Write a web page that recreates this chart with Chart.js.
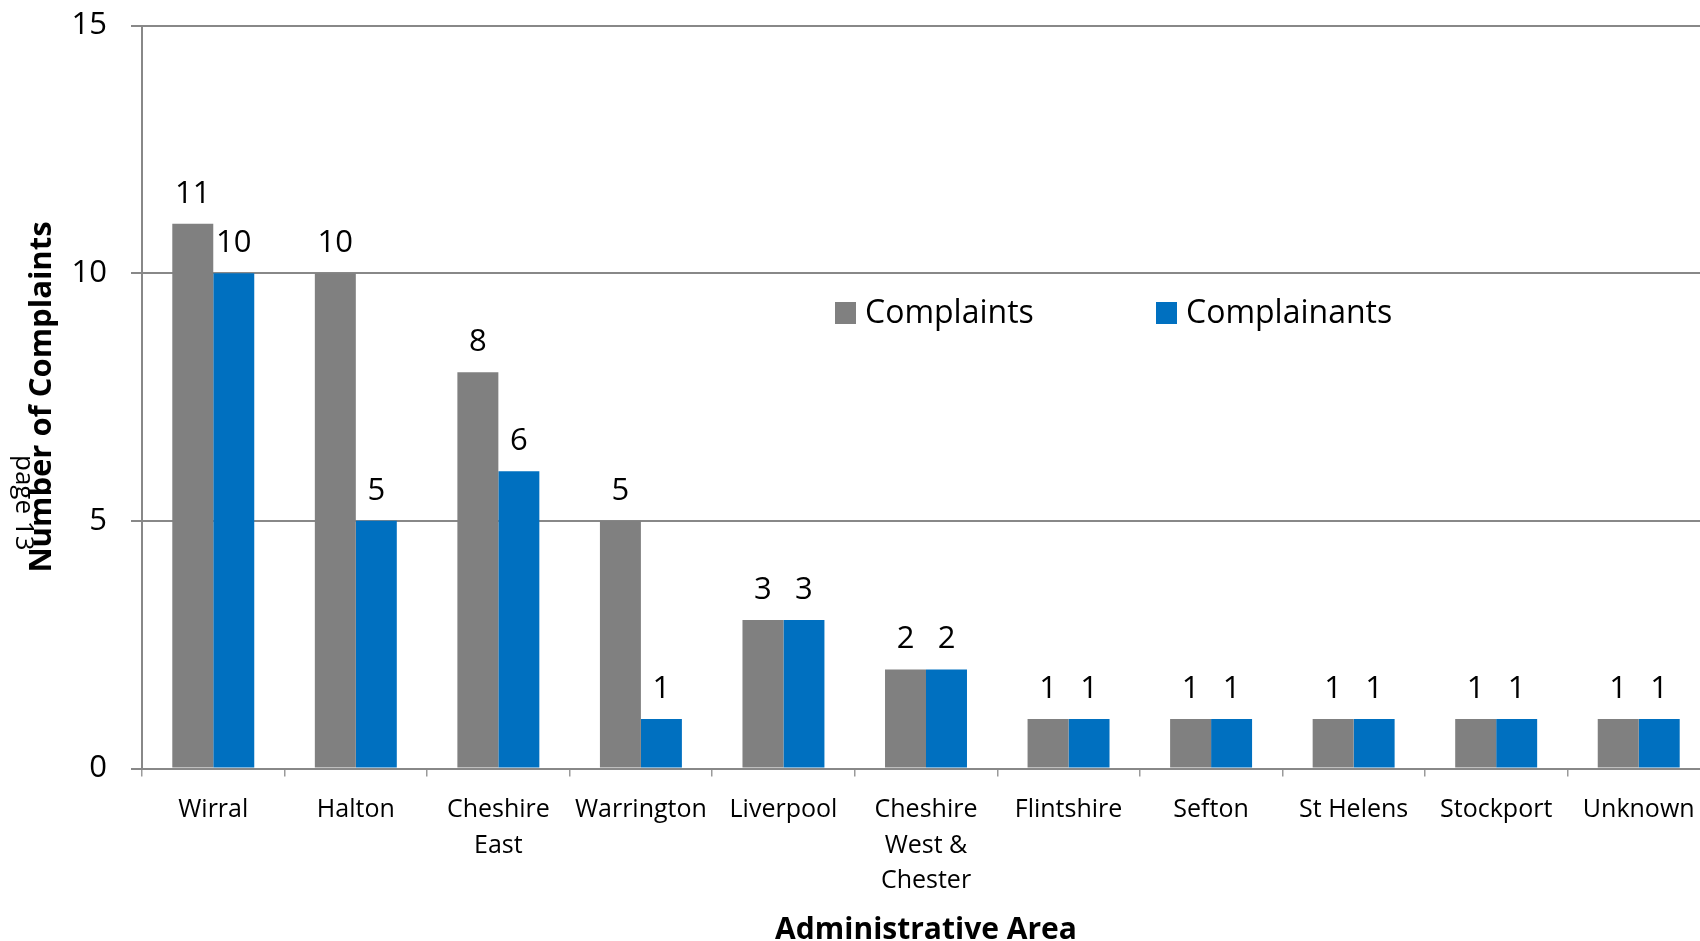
<!DOCTYPE html>
<html>
<head>
<meta charset="utf-8">
<script src="https://cdn.jsdelivr.net/npm/chart.js@4/dist/chart.umd.min.js"></script>
<style>
  html, body { margin: 0; padding: 0; overflow: hidden; background: #ffffff; }
  #wrap { position: absolute; left: 0; top: 0; width: 1720px; height: 941px; }
</style>
</head>
<body>
<div id="wrap"><canvas id="c" width="1720" height="941"></canvas></div>
<script>
// ---- data ----
const categories = [
  'Wirral', 'Halton', ['Cheshire', 'East'], 'Warrington', 'Liverpool',
  ['Cheshire', 'West &', 'Chester'], 'Flintshire', 'Sefton', 'St Helens', 'Stockport', 'Unknown'
];
const complaints   = [11, 10, 8, 5, 3, 2, 1, 1, 1, 1, 1];
const complainants = [10, 5, 6, 1, 3, 2, 1, 1, 1, 1, 1];
const seriesNames  = ['Complaints', 'Complainants'];
const yTicks       = [0, 5, 10, 15];
const yTitle       = 'Number of Complaints';
const xTitle       = 'Administrative Area';
const pageMark     = 'page 13';

const GREY = '#808080';
const BLUE = '#0070C0';
const AXIS = '#888888';
const FONT = "'Open Sans', 'DejaVu Sans', sans-serif";

const valueLabels = {
  id: 'valueLabels',
  afterDatasetsDraw(chart) {
    const ctx = chart.ctx;
    ctx.save();
    ctx.font = '31px ' + FONT;
    ctx.fillStyle = '#000';
    ctx.textAlign = 'center';
    ctx.textBaseline = 'alphabetic';
    chart.data.datasets.forEach((ds, di) => {
      const meta = chart.getDatasetMeta(di);
      meta.data.forEach((bar, i) => {
        ctx.fillText(String(ds.data[i]), bar.x, bar.y - 21);
      });
    });
    ctx.restore();
  }
};

const insideLegend = {
  id: 'insideLegend',
  afterDraw(chart) {
    const ctx = chart.ctx;
    const a = chart.chartArea;
    ctx.save();
    ctx.font = '32px ' + FONT;
    ctx.textBaseline = 'middle';
    ctx.textAlign = 'left';
    const cy = 313;
    const starts = [a.left + 693, a.left + 1014];
    chart.data.datasets.forEach((ds, i) => {
      const x = starts[i];
      ctx.fillStyle = ds.backgroundColor;
      ctx.fillRect(x, cy - 11, 21, 22);
      ctx.fillStyle = '#000';
      ctx.fillText(ds.label, x + 30, cy + 1);
    });
    ctx.restore();
  }
};

const pageMarker = {
  id: 'pageMarker',
  afterDraw(chart) {
    const ctx = chart.ctx;
    ctx.save();
    ctx.translate(16, 455);
    ctx.rotate(Math.PI / 2);
    ctx.font = '26px ' + FONT;
    ctx.fillStyle = '#000';
    ctx.textAlign = 'left';
    ctx.textBaseline = 'alphabetic';
    ctx.fillText(pageMark, 0, 0);
    ctx.restore();
  }
};

new Chart(document.getElementById('c'), {
  type: 'bar',
  data: {
    labels: categories,
    datasets: [
      { label: seriesNames[0], data: complaints, backgroundColor: GREY, borderWidth: 0,
        categoryPercentage: 0.575, barPercentage: 1.0 },
      { label: seriesNames[1], data: complainants, backgroundColor: BLUE, borderWidth: 0,
        categoryPercentage: 0.575, barPercentage: 1.0 }
    ]
  },
  options: {
    responsive: false,
    animation: false,
    devicePixelRatio: 1,
    layout: { padding: { top: 25.5, right: 10, left: 0, bottom: 0 } },
    plugins: {
      legend: { display: false },
      tooltip: { enabled: false },
      title: { display: false }
    },
    scales: {
      x: {
        afterFit(scale) {
          scale.height = 172.5;
          scale.paddingLeft = 0; scale.paddingRight = 0; scale.paddingTop = 0; scale.paddingBottom = 0;
        },
        grid: { drawOnChartArea: false, drawTicks: true, tickLength: 8, color: '#9a9a9a', lineWidth: 1.5, offset: true },
        border: { display: true, color: AXIS, width: 2 },
        ticks: {
          autoSkip: false, maxRotation: 0, minRotation: 0, padding: 16,
          color: '#000', font: { family: FONT, size: 25, lineHeight: 1.42 }
        },
        title: {
          display: true, text: xTitle, color: '#000',
          font: { family: FONT, size: 30, weight: 'bold', lineHeight: 0.7 },
          padding: { top: 0, bottom: 0 }
        }
      },
      y: {
        min: 0, max: 15,
        afterFit(scale) {
          scale.width = 142;
          scale.paddingLeft = 0; scale.paddingRight = 0; scale.paddingTop = 0; scale.paddingBottom = 0;
        },
        afterBuildTicks(scale) { scale.ticks = yTicks.map(v => ({ value: v })); },
        grid: { color: AXIS, lineWidth: 2, tickLength: 11, drawTicks: true },
        border: { display: true, color: AXIS, width: 2 },
        ticks: {
          padding: 24, color: '#000',
          font: { family: FONT, size: 31 }
        },
        title: {
          display: true, text: yTitle, color: '#000',
          font: { family: FONT, size: 31, weight: 'bold', lineHeight: 1.2 },
          padding: { top: 24, bottom: 0 }
        }
      }
    }
  },
  plugins: [valueLabels, insideLegend, pageMarker]
});
</script>
</body>
</html>
